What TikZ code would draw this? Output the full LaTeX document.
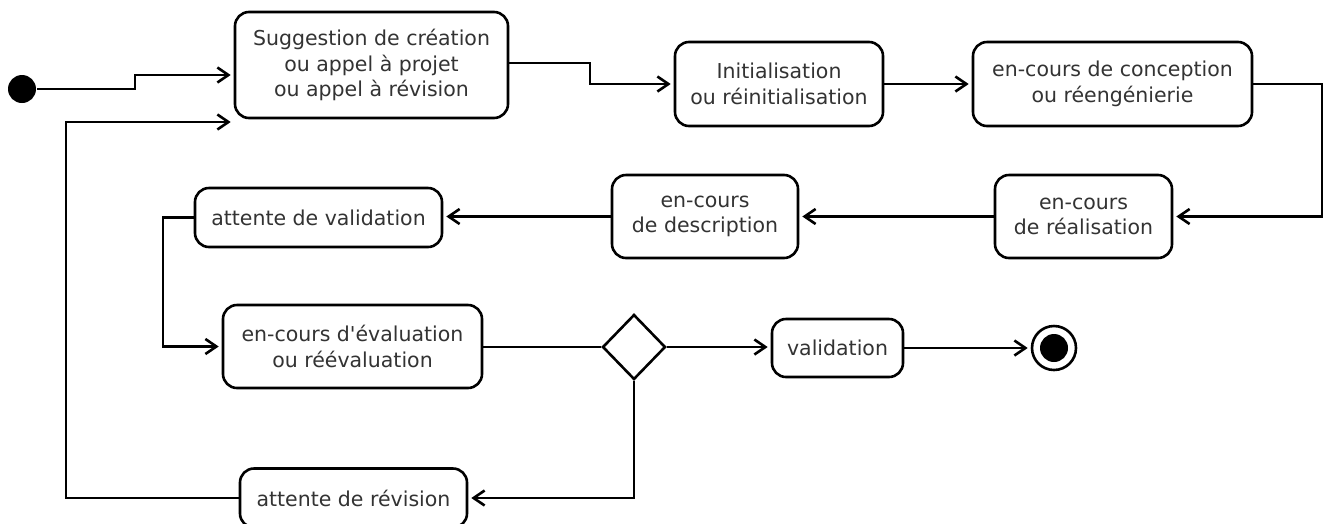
\documentclass[tikz,border=0pt]{standalone}
\usepackage{fontspec}
\setmainfont{DejaVu Sans}[Ligatures=TeXOff]
\usetikzlibrary{arrows.meta,shapes.geometric}
\begin{document}
\begin{tikzpicture}[x=1pt,y=-1pt,
  line width=2.6pt,
  state/.style={draw, rounded corners=14pt, fill=white, align=center, inner sep=0pt,
    text=black!80, font=\fontsize{20.5}{25.5}\selectfont},
  flow/.style={-{Straight Barb[length=11pt,width=15pt]}, shorten >=3pt},
  link/.style={}]
  \useasboundingbox (0,0) rectangle (1329,523);

  % start and end points
  \node[circle, fill=black, inner sep=0pt, minimum size=28pt] (init) at (22,89) {};
  \node[circle, draw, fill=white, inner sep=0pt, minimum size=44pt] (final) at (1054,348) {};
  \fill (final.center) circle (14pt);

  % states
  \node[state, minimum width=273pt, minimum height=106pt] (sugg) at (371.5,65)
    {Suggestion de création\\ou appel à projet\\ou appel à révision};
  \node[state, minimum width=208pt, minimum height=84pt] (init2) at (779,84)
    {Initialisation\\ou réinitialisation};
  \node[state, minimum width=279pt, minimum height=84pt] (conc) at (1112.5,84)
    {en-cours de conception\\ou réengénierie};
  \node[state, minimum width=177pt, minimum height=83pt] (real) at (1083.5,216.5)
    {en-cours\\de réalisation};
  \node[state, minimum width=186pt, minimum height=83pt] (desc) at (705,216.5)
    {en-cours\\de description};
  \node[state, minimum width=247pt, minimum height=59pt] (attval) at (318.5,217.5)
    {attente de validation};
  \node[state, minimum width=259pt, minimum height=83pt] (eval) at (352.5,346.5)
    {en-cours d'évaluation\\ou réévaluation};
  \node[draw, diamond, fill=white, inner sep=0pt, minimum width=63pt, minimum height=65pt] (dec) at (634,347) {};
  \node[state, minimum width=131pt, minimum height=58pt] (valid) at (837.5,348)
    {validation};
  \node[state, minimum width=227pt, minimum height=59pt] (attrev) at (353.5,498)
    {attente de révision};

  % bend points of the connectors
  \coordinate (k1) at (135,75);
  \coordinate (k2) at (66,122);
  \coordinate (k3) at (590,74);
  \coordinate (k5) at (1322,150);
  \coordinate (k8) at (163,280);

  % connectors
  \draw[flow] (init) -| (k1) -- (sugg.west |- k1);
  \draw[flow] (attrev.west) -| (k2) -- (sugg.west |- k2);
  \draw[flow] (sugg.east |- 0,63) -| (k3) |- (init2.west);
  \draw[flow] (init2) -- (conc);
  \draw[flow] (conc.east) -| (k5) |- (real.east);
  \draw[flow] (real) -- (desc);
  \draw[flow] (desc.west) -- (attval.east |- desc.west);
  \draw[flow] (attval.west) -| (k8) |- (eval.west);
  \draw[link] (eval.east |- dec) -- (dec.west);
  \draw[flow] (dec.east) -- (valid.west |- dec.east);
  \draw[flow] (valid.east) -- (final.west |- valid.east);
  \draw[flow] (dec.south) |- (attrev.east);
\end{tikzpicture}
\end{document}
